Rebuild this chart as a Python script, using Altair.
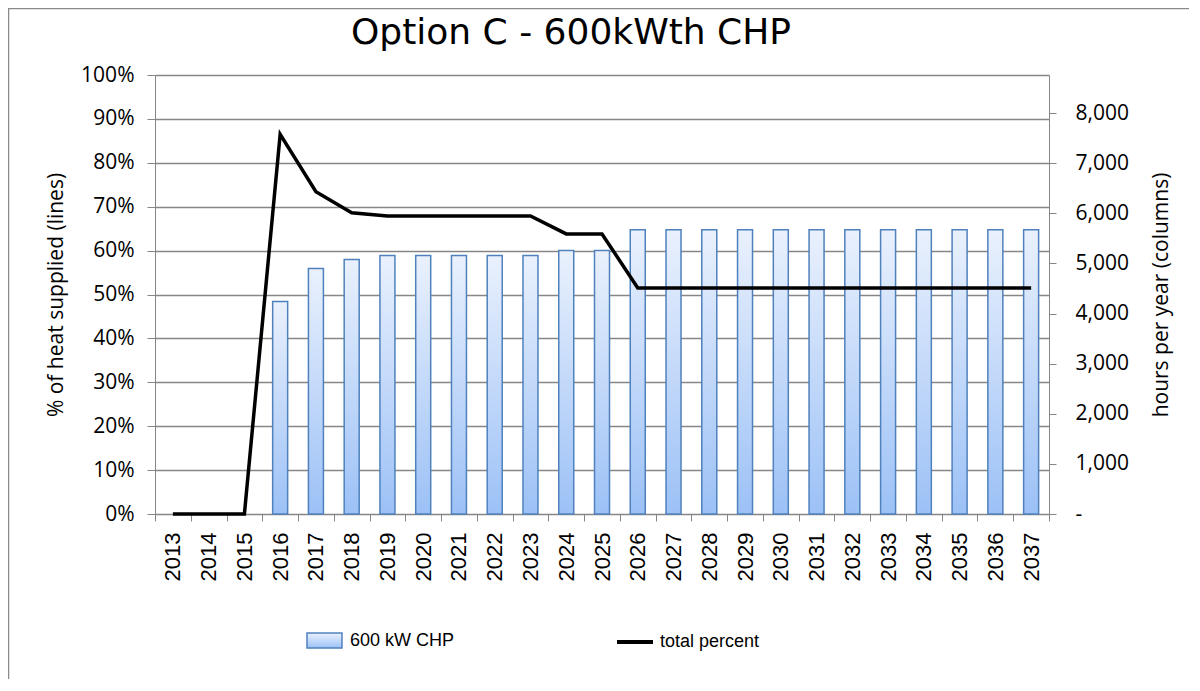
import altair as alt
import pandas as pd

years = [str(y) for y in range(2013, 2038)]
hours = [0, 0, 0, 4240, 4900, 5080, 5160, 5160, 5160, 5160, 5160, 5256, 5256,
         5670, 5670, 5670, 5670, 5670, 5670, 5670, 5670, 5670, 5670, 5670, 5670]
total_percent = [0, 0, 0, 0.865, 0.734, 0.686, 0.679, 0.679, 0.679, 0.679, 0.679,
                 0.638, 0.638, 0.515, 0.515, 0.515, 0.515, 0.515, 0.515, 0.515,
                 0.515, 0.515, 0.515, 0.515, 0.515]
bar_series = "600 kW CHP"
line_series = "total percent"
title_text = "Option C - 600kWth CHP"
left_title = "% of heat supplied (lines)"
right_title = "hours per year  (columns)"
pct_ticks = [i / 10 for i in range(11)]
hour_ticks = [i * 1000 for i in range(9)]

df = pd.DataFrame({"year": years, "hours": hours, "pct": total_percent})
df["bar_series"] = bar_series
df["line_series"] = line_series

GRAY = "#868686"
LABEL_FONT = "Open Sans"
LEGEND_FONT = "Liberation Sans Narrow, Liberation Sans"
W, H = 894, 439

x_enc = alt.X("year:O", sort=years, scale=alt.Scale(paddingInner=0, paddingOuter=0),
              axis=alt.Axis(title=None, labelAngle=270, labelFont="Liberation Sans",
                            labelFontSize=22, labelColor="black", tickBand="extent",
                            tickSize=7, tickColor=GRAY, domainColor=GRAY,
                            labelPadding=11, grid=False))

gradient = alt.LinearGradient(
    gradient="linear",
    stops=[alt.GradientStop(color="#eaf1fd", offset=0),
           alt.GradientStop(color="#9cc1f6", offset=1)],
    x1=0, x2=0, y1=0, y2=1)

bars = alt.Chart(df).transform_filter("datum.hours > 0").mark_bar(
    size=15, fill=gradient, strokeWidth=1.5
).encode(
    x=x_enc,
    y=alt.Y("hours:Q", scale=alt.Scale(domain=[0, 8760], nice=False, zero=True),
            axis=alt.Axis(orient="right", title=right_title, values=hour_ticks,
                          labelExpr="datum.value == 0 ? '-' : format(datum.value, ',')",
                          labelAlign="left", labelFont=LABEL_FONT, labelFontSize=21,
                          labelColor="black", labelPadding=19, tickSize=7,
                          tickColor=GRAY, domainColor=GRAY, grid=False,
                          titleFont=LABEL_FONT, titleFontSize=21, titleFontWeight="normal",
                          titleColor="black", titleAngle=270, titleBaseline="top",
                          titlePadding=22)),
    stroke=alt.Stroke("bar_series:N", scale=alt.Scale(domain=[bar_series], range=["#4f81bd"]),
                      legend=alt.Legend(title=None, orient="none", legendX=151, legendY=547,
                                        symbolType="M-1,-0.43L1,-0.43L1,0.43L-1,0.43Z",
                                        symbolSize=1225, symbolStrokeWidth=1.5,
                                        symbolFillColor="#cddff9",
                                        labelFont=LEGEND_FONT,
                                        labelFontSize=18, labelColor="black",
                                        labelOffset=7, padding=0)),
)

line = alt.Chart(df).mark_line(strokeWidth=3.5).encode(
    x=x_enc,
    y=alt.Y("pct:Q", scale=alt.Scale(domain=[0, 1], nice=False),
            axis=alt.Axis(orient="left", title=left_title, values=pct_ticks, format=".0%",
                          labelFont=LABEL_FONT, labelFontSize=21, labelColor="black",
                          labelPadding=13, tickSize=8, tickColor=GRAY, domainColor=GRAY,
                          grid=True, gridColor=GRAY, gridWidth=1.3,
                          titleFont=LABEL_FONT, titleFontSize=21, titleFontWeight="normal",
                          titleColor="black", titlePadding=14)),
    color=alt.Color("line_series:N", scale=alt.Scale(domain=[line_series], range=["black"]),
                    legend=alt.Legend(title=None, orient="none", legendX=460, legendY=547,
                                      symbolType="stroke", symbolSize=1296,
                                      symbolStrokeWidth=4,
                                      labelFont=LEGEND_FONT,
                                      labelFontSize=18, labelColor="black",
                                      labelOffset=5, padding=0)),
)

frame = alt.Chart(alt.Data(values=[{"f": 1}])).mark_rect(
    fill=None, stroke="#8a8a8a", strokeWidth=1.5
).encode(x=alt.value(-146.5), x2=alt.value(1200), y=alt.value(-66.5), y2=alt.value(800))

chart = alt.layer(frame, bars, line).resolve_scale(
    y="independent", stroke="independent", color="independent"
).properties(
    width=W, height=H,
    title=alt.TitleParams(text=title_text, font="DejaVu Sans", fontSize=36,
                          fontWeight="normal", color="black", anchor="middle",
                          frame="group", dx=-31, dy=54, offset=10),
    padding={"left": 147, "top": 67, "right": 140, "bottom": 165},
    autosize=alt.AutoSizeParams(type="none"),
).configure_view(stroke=GRAY, strokeWidth=1.3).configure(background="white")

chart.save("out.html", embed_options={"renderer": "svg", "actions": False})
